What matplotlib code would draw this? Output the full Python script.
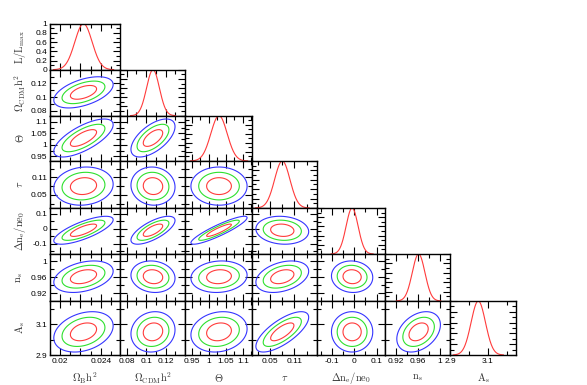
import matplotlib
matplotlib.use("Agg")
import matplotlib.pyplot as plt
import numpy as np

plt.rcParams["font.family"] = ["Liberation Sans", "DejaVu Sans"]
plt.rcParams["mathtext.fontset"] = "cm"

# parameters (summary of the chains)
names = [r"$\Omega_{\rm B}{\rm h}^2$", r"$\Omega_{\rm CDM}{\rm h}^2$", r"$\Theta$",
         r"$\tau$", r"$\Delta{\rm n_e/ne_0}$", r"${\rm n_s}$", r"${\rm A_s}$"]
means = [0.0223, 0.107, 1.030, 0.080, -0.010, 0.961, 3.050]
sigmas = [0.00085, 0.0066, 0.024, 0.019, 0.027, 0.0115, 0.038]
# lower-triangle correlations, row i holds rho(i, j) for j < i
rho = [[],
       [0.5],
       [0.7, 0.6],
       [0.1, -0.05, 0.0],
       [0.75, 0.7, 0.9, -0.1],
       [0.35, -0.1, 0.1, 0.35, -0.05],
       [0.3, 0.1, 0.15, 0.72, 0.0, 0.35]]
lims = [(0.019, 0.0259), (0.073, 0.140), (0.93, 1.127), (0.005, 0.166),
        (-0.168, 0.138), (0.900, 1.018), (2.90, 3.25)]
major = [[0.02, 0.022, 0.024], [0.08, 0.10, 0.12], [0.95, 1.0, 1.05, 1.1],
         [0.05, 0.11], [-0.1, 0.0, 0.1], [0.92, 0.96, 1.0], [2.9, 3.1]]
ticklabels = [["0.02", "", "0.024"], ["0.08", "0.1", "0.12"],
              ["0.95", "1", "1.05", "1.1"], ["0.05", "0.11"],
              ["-0.1", "0", "0.1"], ["0.92", "0.96", "1"], ["2.9", "3.1"]]
minor = [[0.019, 0.021, 0.023, 0.025], [0.09, 0.11, 0.13],
         [0.975, 1.025, 1.075, 1.125], [0.02, 0.08, 0.14],
         [-0.15, -0.05, 0.05], [0.94, 0.98], [3.0, 3.2]]
like_ticks = [0, 0.2, 0.4, 0.6, 0.8, 1]
like_labels = ["0", "0.2", "0.4", "0.6", "0.8", "1"]
levels = [2.30, 6.18, 11.83]
level_colors = ["#ff3b3b", "#2ee02e", "#3535ff"]

W, H = 587, 385
xe = [50, 120, 185, 252, 317, 385, 450, 516]
ye = [23.7, 69.7, 115.7, 161, 208, 254, 301, 355]
n = len(names)

fig = plt.figure(figsize=(W / 100, H / 100), dpi=100)


def style(ax):
    ax.tick_params(which="both", direction="in", top=True, right=True,
                   labelsize=6, pad=2, width=0.8, colors="black")
    ax.tick_params(which="major", length=5)
    ax.tick_params(which="minor", length=3)
    for s in ax.spines.values():
        s.set_linewidth(1.0)


for i in range(n):
    for j in range(i + 1):
        ax = fig.add_axes([xe[j] / W, 1 - ye[i + 1] / H,
                           (xe[j + 1] - xe[j]) / W, (ye[i + 1] - ye[i]) / H])
        style(ax)
        mx, sx = means[j], sigmas[j]
        if i == j:
            x = np.linspace(max(lims[j][0], mx - 3.5 * sx),
                            min(lims[j][1], mx + 3.5 * sx), 200)
            ax.plot(x, np.exp(-0.5 * ((x - mx) / sx) ** 2),
                    color=level_colors[0], lw=0.8)
            ax.set_ylim(0, 1)
            ax.set_yticks(like_ticks)
            ax.set_yticks([0.1, 0.3, 0.5, 0.7, 0.9], minor=True)
            if j == 0:
                ax.set_yticklabels(like_labels)
            else:
                ax.set_yticklabels([])
        else:
            my, sy = means[i], sigmas[i]
            r = rho[i][j]
            gx = np.linspace(*lims[j], 300)
            gy = np.linspace(*lims[i], 300)
            X, Y = np.meshgrid(gx, gy)
            dx, dy = (X - mx) / sx, (Y - my) / sy
            chi2 = (dx ** 2 - 2 * r * dx * dy + dy ** 2) / (1 - r ** 2)
            ax.contour(X, Y, chi2, levels=levels, colors=level_colors,
                       linewidths=0.8)
            ax.set_ylim(*lims[i])
            ax.set_yticks(major[i])
            ax.set_yticks(minor[i], minor=True)
            if j == 0:
                ax.set_yticklabels(ticklabels[i])
            else:
                ax.set_yticklabels([])
        ax.set_xlim(*lims[j])
        ax.set_xticks(major[j])
        ax.set_xticks(minor[j], minor=True)
        if i == n - 1:
            ax.set_xticklabels(ticklabels[j])
        else:
            ax.set_xticklabels([])

ylabels = [r"${\rm L/L_{max}}$"] + names[1:]
for i, lab in enumerate(ylabels):
    yc = (ye[i] + ye[i + 1]) / 2
    fig.text(20 / W, 1 - yc / H, lab, rotation=90, ha="center", va="center",
             fontsize=7.5, color="#333333")
for j, lab in enumerate(names):
    xc = (xe[j] + xe[j + 1]) / 2
    fig.text(xc / W, 1 - 378 / H, lab, ha="center", va="center",
             fontsize=7.5, color="#333333")

fig.savefig("out.png", dpi=100)
